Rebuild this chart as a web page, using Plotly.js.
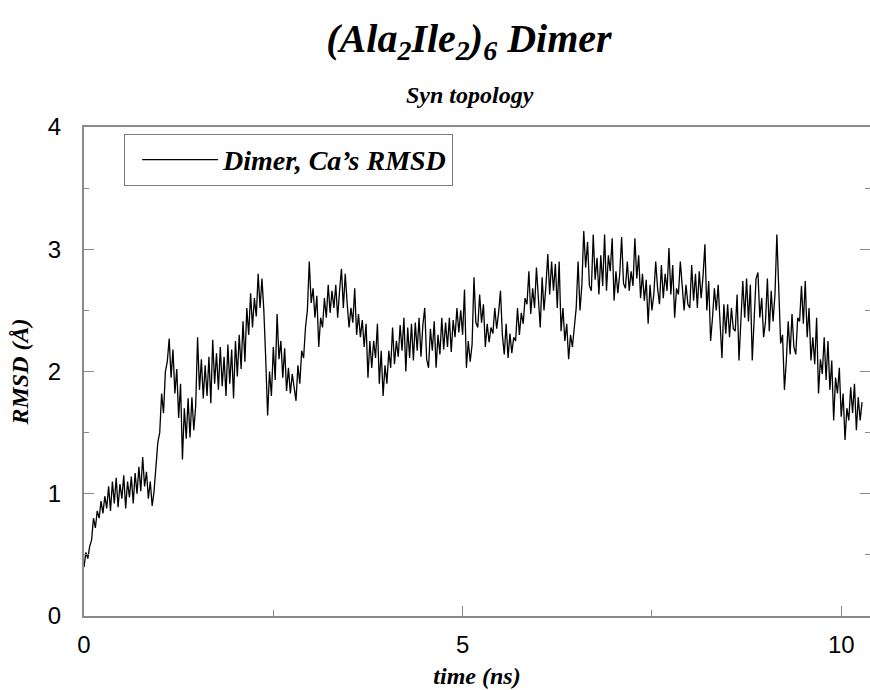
<!DOCTYPE html>
<html>
<head>
<meta charset="utf-8">
<script src="https://cdn.plot.ly/plotly-3.0.1.min.js"></script>
<style>html,body{margin:0;padding:0;background:#fff;}#chart{width:870px;height:690px;}</style>
</head>
<body>
<div id="chart"></div>
<script>
// Sampling of the trajectory (ns)
const timeStart = 0;
const timeStep = 0.025;

// C-alpha RMSD (Å), 4 samples per 0.1 ns
const rmsd = [
  0.40, 0.52, 0.47, 0.57,
  0.62, 0.80, 0.72, 0.86,
  0.80, 0.94, 0.84, 0.98,
  0.88, 1.06, 0.86, 1.10,
  0.92, 1.13, 0.89, 1.08,
  0.96, 1.15, 0.88, 1.10,
  0.97, 1.14, 0.92, 1.17,
  1.00, 1.22, 1.02, 1.30,
  1.06, 1.18, 0.96, 1.10,
  0.90, 1.02, 1.22, 1.42,
  1.50, 1.82, 1.66, 2.00,
  2.08, 2.27, 1.95, 2.18,
  1.82, 2.02, 1.62, 1.90,
  1.28, 1.70, 1.45, 1.78,
  1.46, 1.79, 1.52, 1.72,
  2.28, 1.85, 2.10, 1.78,
  2.05, 1.80, 2.12, 1.74,
  2.26, 1.90, 2.15, 1.85,
  2.20, 1.88, 2.12, 1.80,
  2.22, 1.90, 2.18, 1.78,
  2.25, 1.96, 2.30, 2.02,
  2.41, 2.08, 2.52, 2.30,
  2.64, 2.36, 2.60, 2.45,
  2.80, 2.52, 2.76, 2.50,
  2.10, 1.64, 2.00, 1.80,
  2.20, 1.93, 2.47, 2.10,
  2.25, 1.95, 2.19, 1.84,
  2.03, 1.82, 1.98, 1.85,
  1.76, 2.05, 1.90, 2.17,
  2.11, 2.36, 2.50, 2.90,
  2.56, 2.68, 2.44, 2.62,
  2.20, 2.44, 2.36, 2.60,
  2.44, 2.71, 2.48, 2.66,
  2.52, 2.71, 2.44, 2.66,
  2.84, 2.52, 2.80, 2.56,
  2.36, 2.52, 2.40, 2.68,
  2.30, 2.47, 2.28, 2.42,
  2.20, 2.39, 1.95, 2.25,
  2.03, 2.25, 2.11, 2.39,
  1.90, 2.17, 1.80, 2.05,
  1.90, 2.17, 2.03, 2.36,
  2.06, 2.25, 2.12, 2.38,
  2.17, 2.44, 2.00, 2.36,
  2.11, 2.39, 2.09, 2.40,
  2.17, 2.44, 2.12, 2.38,
  2.52, 2.10, 2.03, 2.35,
  2.17, 2.41, 2.03, 2.30,
  2.14, 2.44, 2.18, 2.40,
  2.20, 2.44, 2.16, 2.42,
  2.28, 2.52, 2.32, 2.50,
  2.30, 2.67, 2.03, 2.25,
  2.08, 2.22, 2.77, 2.40,
  2.36, 2.63, 2.40, 2.55,
  2.20, 2.39, 2.24, 2.36,
  2.31, 2.52, 2.35, 2.48,
  2.66, 2.30, 2.14, 2.39,
  2.11, 2.31, 2.15, 2.28,
  2.25, 2.52, 2.30, 2.48,
  2.39, 2.60, 2.55, 2.82,
  2.47, 2.68, 2.52, 2.85,
  2.60, 2.36, 2.77, 2.50,
  2.70, 2.96, 2.63, 2.90,
  2.66, 2.88, 2.52, 2.90,
  2.33, 2.52, 2.25, 2.39,
  2.10, 2.30, 2.20, 2.39,
  2.52, 2.90, 2.50, 2.71,
  3.15, 2.85, 3.06, 2.70,
  2.66, 3.12, 2.75, 2.93,
  2.63, 2.95, 2.70, 3.12,
  2.66, 2.95, 2.82, 3.09,
  2.58, 2.82, 2.64, 2.80,
  3.10, 2.72, 2.68, 2.90,
  2.66, 2.82, 2.70, 3.09,
  2.76, 2.95, 2.60, 2.80,
  2.58, 2.75, 2.39, 2.71,
  2.50, 2.63, 2.90, 2.68,
  2.55, 2.87, 2.60, 2.80,
  2.66, 3.01, 2.63, 2.87,
  2.44, 2.68, 2.63, 2.90,
  2.66, 2.50, 2.71, 2.55,
  2.52, 2.87, 2.58, 2.80,
  2.52, 2.82, 2.60, 2.78,
  3.04, 2.50, 2.74, 2.25,
  2.44, 2.68, 2.50, 2.71,
  2.40, 2.11, 2.55, 2.31,
  2.55, 2.28, 2.52, 2.35,
  2.33, 2.63, 2.09, 2.44,
  2.74, 2.44, 2.76, 2.41,
  2.71, 2.09, 2.45, 2.76,
  2.81, 2.44, 2.60, 2.28,
  2.41, 2.76, 2.33, 2.66,
  2.41, 2.63, 3.12, 2.68,
  2.23, 2.30, 1.85, 2.09,
  2.41, 2.14, 2.47, 2.20,
  2.14, 2.44, 2.41, 2.70,
  2.39, 2.74, 2.28, 2.52,
  2.09, 2.28, 2.06, 2.44,
  1.82, 2.10, 1.98, 2.28,
  1.93, 2.25, 1.85, 2.09,
  1.60, 1.95, 1.82, 2.03,
  1.63, 1.82, 1.44, 1.70,
  1.60, 1.87, 1.66, 1.90,
  1.52, 1.79, 1.60, 1.75
];
const time = rmsd.map((_, i) => timeStart + i * timeStep);

const seriesName = "Dimer, Ca\u2019s RMSD";
const titleText = "(Ala<sub>2</sub>Ile<sub>2</sub>)<sub>6</sub> Dimer";
const subtitleText = "Syn topology";
const xTitle = "time (ns)";
const yTitle = "RMSD (\u00c5)";

const serifBI = {family: "Liberation Serif, Times New Roman, serif", color: "#000", weight: "bold", style: "italic"};
const sans = {family: "Liberation Sans, Arial, sans-serif", size: 24, color: "#000"};

const trace = {
  x: time, y: rmsd, type: "scatter", mode: "lines", name: seriesName,
  line: {color: "#000", width: 1.3}
};

const axisLine = "#8a8a8a";
const layout = {
  width: 870, height: 690,
  margin: {l: 84, r: 0, t: 127, b: 74},
  paper_bgcolor: "#fff", plot_bgcolor: "#fff",
  showlegend: true,
  title: {
    text: titleText, xref: "container", yref: "container",
    x: 0.539, xanchor: "center", y: 0.945, yanchor: "middle",
    font: Object.assign({size: 40}, serifBI)
  },
  annotations: [{
    text: subtitleText, xref: "paper", yref: "paper",
    x: 0.491, y: 1.065, xanchor: "center", yanchor: "middle",
    showarrow: false, font: Object.assign({size: 24}, serifBI)
  }],
  legend: {
    x: 0.051, y: 0.986, xanchor: "left", yanchor: "top",
    bordercolor: "#7a7a7a", borderwidth: 1, bgcolor: "#fff",
    font: Object.assign({size: 28}, serifBI),
    itemwidth: 76, indentation: 12
  },
  xaxis: {
    range: [0, 10.38], dtick: 5, tick0: 0,
    ticks: "inside", ticklen: 10, tickwidth: 1, tickcolor: axisLine,
    minor: {dtick: 2.5, ticks: "inside", ticklen: 6, tickcolor: axisLine},
    showline: true, linecolor: axisLine, linewidth: 2, mirror: true,
    showgrid: false, zeroline: false,
    tickfont: sans, ticklabelstandoff: 6,
    title: {text: xTitle, font: Object.assign({size: 24}, serifBI), standoff: 10}
  },
  yaxis: {
    range: [0, 4], dtick: 1, tick0: 0,
    ticks: "inside", ticklen: 10, tickwidth: 1, tickcolor: axisLine,
    minor: {dtick: 0.5, ticks: "inside", ticklen: 5, tickcolor: axisLine},
    showline: true, linecolor: axisLine, linewidth: 2, mirror: "ticks",
    showgrid: false, zeroline: false,
    tickfont: sans, ticklabelstandoff: 16,
    title: {text: yTitle, font: Object.assign({size: 24}, serifBI), standoff: 12}
  }
};

Plotly.newPlot("chart", [trace], layout, {displayModeBar: false, staticPlot: true});
</script>
</body>
</html>
